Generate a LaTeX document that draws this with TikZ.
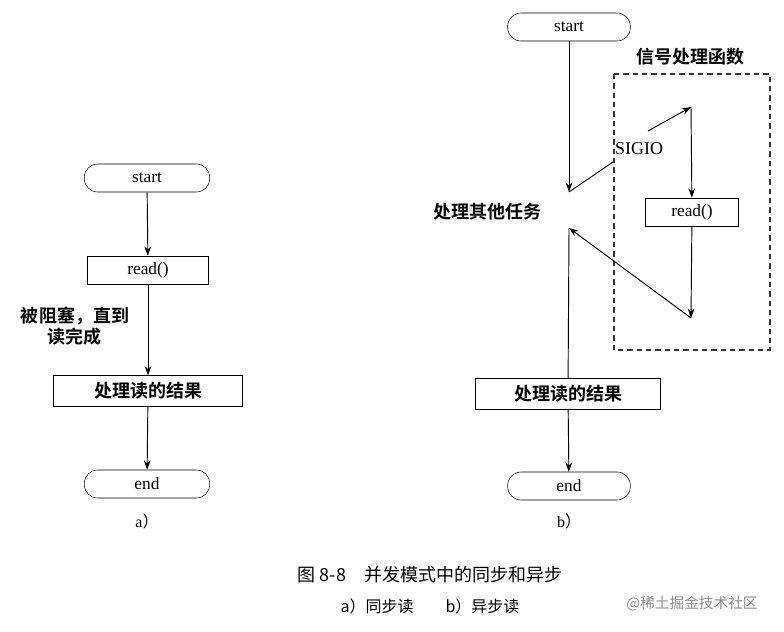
\documentclass[tikz,border=0pt]{standalone}
\usepackage{fontspec}
\setmainfont{Liberation Serif}
\newfontfamily\cjk{Noto Sans CJK SC}[BoldFont={Noto Sans CJK SC Bold}]
\usetikzlibrary{arrows.meta}
\begin{document}
\begin{tikzpicture}[x=0.75pt,y=-0.75pt,
  pill/.style={draw,rounded corners=10pt,minimum height=21pt,font=\fontsize{13}{15}\selectfont},
  rbox/.style={draw,minimum height=21pt,font=\fontsize{13}{15}\selectfont},
  cbox/.style={draw,minimum height=23pt,font=\cjk\bfseries\fontsize{13.5}{16}\selectfont},
  ctext/.style={font=\cjk\bfseries\fontsize{13.5}{16}\selectfont},
  arr/.style={-{Stealth[length=7pt,width=5pt]},line width=0.7pt},
  ln/.style={line width=0.7pt}]
\useasboundingbox (0,0) rectangle (784,631);
% a)
\node[pill,minimum width=94pt] (as) at (147,178) {start};
\node[rbox,minimum width=91pt] (ar) at (148,270) {read()};
\node[cbox,minimum width=142pt] (ap) at (148,391) {处理读的结果};
\node[pill,minimum width=94pt] (ae) at (147,484) {end};
\node[ctext,align=center] (al) at (75,326) {被阻塞，直到\\读完成};
\node[font=\fontsize{12}{14}\selectfont] (acap) at (147,521) {a\cjk ）};
\draw[arr] (as) -- (ar);
\draw[arr] (ar) -- (ap);
\draw[arr] (ap) -- (ae);
% b)
\node[pill,minimum width=92pt] (bs) at (569,27) {start};
\node[rbox,minimum width=70pt] (br) at (692,212) {read()};
\node[cbox,minimum width=139pt] (bp) at (568,394) {处理读的结果};
\node[pill,minimum width=92pt] (be) at (569,486) {end};
\node[ctext] (bo) at (487,212) {处理其他任务};
\node[ctext] (bt) at (690,57) {信号处理函数};
\node[font=\fontsize{13.5}{15}\selectfont] (sig) at (639,149) {SIGIO};
\node[font=\fontsize{12}{14}\selectfont] (bcap) at (569,521) {b\cjk ）};
\draw[dashed,dash pattern=on 4pt off 3pt,line width=0.8pt,black!80] (614,74) rectangle (770,350);
\coordinate (p1) at (569,192);
\coordinate (p2) at (691,107);
\coordinate (p3) at (691,318);
\coordinate (p4) at (569,228);
\coordinate (s1) at (613,162);
\coordinate (s2) at (648,131);
\draw[arr] (bs) -- (p1);
\draw[ln] (p1) -- (s1);
\draw[arr] (s2) -- (p2);
\draw[arr] (p2) -- (br);
\draw[arr] (br) -- (p3);
\draw[arr] (p3) -- (p4);
\draw[ln] (p4) -- (bp);
\draw[arr] (bp) -- (be);
% caption
\node[font=\cjk\fontsize{13.5}{16}\selectfont] (cap) at (430,575) {图 8-8\quad 并发模式中的同步和异步};
\node[font=\cjk\fontsize{12}{14}\selectfont] (cap2) at (430,606) {a）同步读\qquad b）异步读};
\node[font=\cjk\fontsize{11}{13}\selectfont,text=black!45] (wm) at (692,604) {@稀土掘金技术社区};
\end{tikzpicture}
\end{document}
